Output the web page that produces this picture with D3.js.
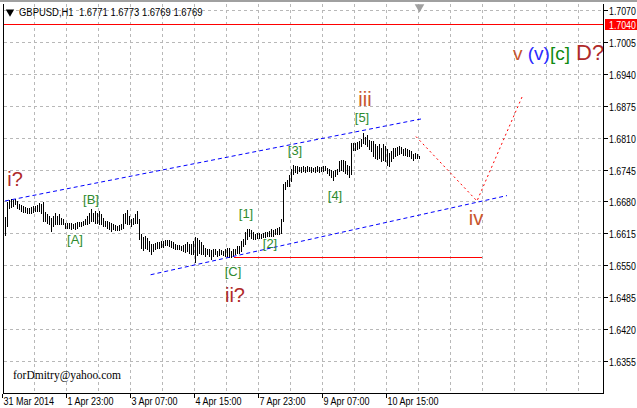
<!DOCTYPE html>
<html><head><meta charset="utf-8">
<script src="https://cdn.jsdelivr.net/npm/d3@7"></script>
<style>html,body{margin:0;padding:0;background:#fff;overflow:hidden}</style>
</head><body><svg id="c" width="637" height="408"></svg>
<script>
// ---- data (hourly bars, GBPUSD H1) ----
const highs = [
1.6649,1.6679,1.6683,1.6686,1.6684,1.6686,1.6681,1.6674,1.6672,1.6671,
1.6669,1.6667,1.6667,1.6669,1.6671,1.6671,1.6672,1.6676,1.6675,1.6679,
1.6659,1.6654,1.6650,1.6647,1.6650,1.6657,1.6650,1.6654,1.6647,1.6644,
1.6637,1.6637,1.6636,1.6636,1.6635,1.6637,1.6638,1.6638,1.6638,1.6640,
1.6644,1.6650,1.6657,1.6665,1.6657,1.6661,1.6657,1.6661,1.6654,1.6647,
1.6640,1.6640,1.6638,1.6637,1.6634,1.6632,1.6630,1.6632,1.6634,1.6654,
1.6657,1.6662,1.6650,1.6644,1.6647,1.6654,1.6661,1.6644,1.6613,1.6607,
1.6610,1.6605,1.6600,1.6593,1.6593,1.6595,1.6597,1.6598,1.6600,1.6600,
1.6602,1.6601,1.6601,1.6600,1.6597,1.6593,1.6591,1.6591,1.6590,1.6591,
1.6593,1.6597,1.6593,1.6593,1.6600,1.6607,1.6605,1.6601,1.6597,1.6591,
1.6586,1.6583,1.6584,1.6581,1.6583,1.6583,1.6580,1.6583,1.6581,1.6580,
1.6583,1.6586,1.6586,1.6580,1.6583,1.6584,1.6590,1.6590,1.6600,1.6603,
1.6617,1.6625,1.6624,1.6622,1.6617,1.6613,1.6615,1.6615,1.6613,1.6615,
1.6617,1.6617,1.6620,1.6624,1.6622,1.6624,1.6627,1.6629,1.6644,1.6715,
1.6720,1.6723,1.6733,1.6747,1.6755,1.6753,1.6752,1.6750,1.6750,1.6753,
1.6750,1.6752,1.6750,1.6750,1.6748,1.6750,1.6752,1.6750,1.6750,1.6752,
1.6753,1.6748,1.6746,1.6745,1.6741,1.6745,1.6746,1.6762,1.6765,1.6764,
1.6762,1.6755,1.6752,1.6799,1.6799,1.6798,1.6800,1.6802,1.6807,1.6819,
1.6812,1.6816,1.6806,1.6802,1.6802,1.6796,1.6792,1.6796,1.6789,1.6796,
1.6792,1.6786,1.6779,1.6782,1.6789,1.6789,1.6791,1.6792,1.6791,1.6787,
1.6789,1.6786,1.6784,1.6782,1.6777,1.6779,1.6777,1.6773];
const lows = [
1.6611,1.6631,1.6667,1.6669,1.6671,1.6674,1.6667,1.6664,1.6660,1.6659,
1.6659,1.6657,1.6656,1.6657,1.6659,1.6661,1.6661,1.6661,1.6657,1.6640,
1.6640,1.6637,1.6634,1.6620,1.6630,1.6634,1.6634,1.6634,1.6634,1.6634,
1.6627,1.6627,1.6627,1.6625,1.6626,1.6624,1.6627,1.6630,1.6630,1.6632,
1.6634,1.6634,1.6637,1.6640,1.6640,1.6637,1.6637,1.6634,1.6634,1.6630,
1.6630,1.6627,1.6624,1.6620,1.6624,1.6622,1.6622,1.6622,1.6625,1.6627,
1.6637,1.6634,1.6634,1.6630,1.6634,1.6637,1.6637,1.6603,1.6586,1.6582,
1.6586,1.6584,1.6580,1.6573,1.6580,1.6583,1.6586,1.6586,1.6588,1.6588,
1.6591,1.6591,1.6590,1.6588,1.6586,1.6584,1.6583,1.6583,1.6582,1.6580,
1.6578,1.6580,1.6576,1.6573,1.6573,1.6556,1.6571,1.6575,1.6573,1.6573,
1.6569,1.6573,1.6569,1.6564,1.6569,1.6573,1.6569,1.6571,1.6573,1.6571,
1.6569,1.6569,1.6568,1.6568,1.6569,1.6573,1.6575,1.6576,1.6580,1.6590,
1.6593,1.6603,1.6610,1.6605,1.6603,1.6603,1.6605,1.6606,1.6605,1.6607,
1.6607,1.6609,1.6609,1.6610,1.6610,1.6613,1.6613,1.6613,1.6615,1.6640,
1.6706,1.6711,1.6711,1.6721,1.6735,1.6739,1.6738,1.6741,1.6739,1.6741,
1.6739,1.6741,1.6741,1.6739,1.6741,1.6739,1.6741,1.6739,1.6741,1.6741,
1.6744,1.6738,1.6733,1.6730,1.6723,1.6731,1.6735,1.6741,1.6745,1.6741,
1.6738,1.6735,1.6730,1.6735,1.6785,1.6785,1.6787,1.6789,1.6792,1.6799,
1.6796,1.6792,1.6786,1.6782,1.6772,1.6769,1.6767,1.6769,1.6762,1.6765,
1.6762,1.6755,1.6753,1.6762,1.6769,1.6772,1.6775,1.6777,1.6779,1.6775,
1.6775,1.6773,1.6772,1.6769,1.6764,1.6769,1.6769,1.6769];

const priceTicks = [1.7070,1.7005,1.6940,1.6875,1.6810,1.6745,1.6680,1.6615,1.6550,1.6485,1.6420,1.6355];
const timeLabels = ["31 Mar 2014","1 Apr 23:00","3 Apr 07:00","4 Apr 15:00","7 Apr 23:00","9 Apr 07:00","10 Apr 15:00"];
const timeLabelBars = [-1,31,63,95,127,159,191];
const headerText = "GBPUSD,H1  1.6771 1.6773 1.6769 1.6769";
const levelPrice = 1.7040;

// drawn objects, in (bar index, price)
const upperChannel = [[0,1.6681],[208.3,1.6848]];
const lowerChannel = [[72.8,1.6531],[251,1.6692]];
const projection = [[205.5,1.6812],[236,1.6681],[259,1.6897]];
const supportLine = [[114,1.6568],[238,1.6568]];

// wave labels: [text, bar index, price(baseline), kind]
const waveLabels = [
  ["i?",5,1.6711,"major"],
  ["[A]",35,1.6593,"minor"],
  ["[B]",43,1.6674,"minor"],
  ["[C]",114,1.6528,"minor"],
  ["ii?",115,1.6476,"major"],
  ["[1]",120.5,1.6646,"minor"],
  ["[2]",132.5,1.6585,"minor"],
  ["[3]",145,1.6775,"minor"],
  ["[4]",165,1.6684,"minor"],
  ["[5]",178.5,1.6842,"minor"],
  ["iii",180,1.6874,"inter"],
  ["iv",235.5,1.6632,"inter"]
];
const targetLabel = {bar:254, price:1.6968, parts:[["v ","inter"],["(v)","blue"],["[c]","green"],[" D?","major"]]};

// ---- drawing ----
const svg = d3.select("#c");
const L = 3.5, R = 603.5, T = 4, B = 393.5;
const x = d3.scaleLinear().domain([0,299]).range([5,603]);
const y = d3.scaleLinear().domain([1.6355,1.7070]).range([361.3,9.7]);
const px = v => Math.round(x(v)) + 0.5;
const py = v => Math.round(y(v)) + 0.5;
const colors = {major:"#b02a2a", inter:"#c8552d", minor:"#2e8b2e", blue:"#2a2aff", green:"#108a10"};
const sizes = {major:20, inter:20, minor:13, blue:19, green:19};

// top frame strip
svg.append("rect").attr("x",0).attr("y",0).attr("width",637).attr("height",2).attr("fill","#a0a0a0");

// grid
const grid = svg.append("g").attr("stroke","#b8b8b8").attr("stroke-dasharray","3,3").attr("shape-rendering","crispEdges");
priceTicks.forEach(p => grid.append("line").attr("x1",L).attr("x2",R).attr("y1",py(p)).attr("y2",py(p)));
d3.range(15, 299, 16).forEach(i => grid.append("line").attr("x1",px(i)-1).attr("x2",px(i)-1).attr("y1",T).attr("y2",B));

// red level line
svg.append("line").attr("x1",L).attr("x2",R).attr("y1",py(levelPrice)).attr("y2",py(levelPrice))
  .attr("stroke","#ff0000").attr("shape-rendering","crispEdges");

// support line
svg.append("line").attr("x1",px(supportLine[0][0])).attr("x2",px(supportLine[1][0]))
  .attr("y1",py(supportLine[0][1])).attr("y2",py(supportLine[1][1]))
  .attr("stroke","#ff0000").attr("shape-rendering","crispEdges");

// bars
svg.append("g").attr("stroke","#000").attr("shape-rendering","crispEdges")
  .selectAll("line").data(highs).join("line")
  .attr("x1",(d,i)=>px(i)).attr("x2",(d,i)=>px(i))
  .attr("y1",d=>Math.round(y(d))).attr("y2",(d,i)=>Math.round(y(lows[i]))+1);

// channel lines
const lineGen = d3.line().x(d=>x(d[0])).y(d=>y(d[1]));
[upperChannel, lowerChannel].forEach(c => svg.append("path").attr("d",lineGen(c))
  .attr("fill","none").attr("stroke","#0000ff").attr("stroke-width",1).attr("stroke-dasharray","4,3"));
svg.append("path").attr("d",lineGen(projection)).attr("fill","none")
  .attr("stroke","#ff0000").attr("stroke-width",1).attr("stroke-dasharray","2,3");

// wave labels
waveLabels.forEach(([t,i,p,k]) => svg.append("text").text(t)
  .attr("x",x(i)).attr("y",y(p)).attr("text-anchor","middle")
  .attr("font-family","Liberation Sans, Arial, sans-serif").attr("font-size",sizes[k]).attr("fill",colors[k]));
const tl = svg.append("text").attr("x",x(targetLabel.bar)).attr("y",y(targetLabel.price))
  .attr("font-family","Liberation Sans, Arial, sans-serif").style("white-space","pre");
targetLabel.parts.forEach(([t,k],j) => tl.append("tspan").text(t).attr("fill",colors[k])
  .attr("font-size", j===3 ? 22 : 19));

// axes frame
const ax = svg.append("g").attr("stroke","#000").attr("shape-rendering","crispEdges");
ax.append("line").attr("x1",L).attr("x2",L).attr("y1",T).attr("y2",B);
ax.append("line").attr("x1",R).attr("x2",R).attr("y1",T).attr("y2",B);
ax.append("line").attr("x1",L).attr("x2",R).attr("y1",B).attr("y2",B);
priceTicks.forEach(p => ax.append("line").attr("x1",R).attr("x2",R+4).attr("y1",py(p)).attr("y2",py(p)));
timeLabelBars.forEach(i => ax.append("line").attr("x1",px(i)-1).attr("x2",px(i)-1).attr("y1",B).attr("y2",B+4));

const axFont = "Liberation Sans, Arial, sans-serif";
priceTicks.forEach(p => svg.append("text").text(p.toFixed(4))
  .attr("transform",`translate(609,${py(p)+4}) scale(0.8,1)`)
  .attr("font-family",axFont).attr("font-size",11).attr("fill","#000"));
timeLabels.forEach((t,j) => svg.append("text").text(t)
  .attr("transform",`translate(${px(timeLabelBars[j])},405) scale(0.82,1)`)
  .attr("font-family",axFont).attr("font-size",11).attr("fill","#000"));

// current level box
svg.append("rect").attr("x",605).attr("y",py(levelPrice)-5.5).attr("width",32).attr("height",11).attr("fill","#ff0000");
svg.append("text").text(levelPrice.toFixed(4))
  .attr("transform",`translate(609,${py(levelPrice)+4}) scale(0.8,1)`)
  .attr("font-family",axFont).attr("font-size",11).attr("fill","#fff");

// header
svg.append("path").attr("d",d3.symbol(d3.symbolTriangle,30)()).attr("transform","translate(10,12) rotate(180)").attr("fill","#000");
svg.append("text").text(headerText).style("white-space","pre")
  .attr("transform","translate(19,16) scale(0.86,1)")
  .attr("font-family",axFont).attr("font-size",11).attr("fill","#000");

// chart-shift marker
svg.append("path").attr("d",d3.symbol(d3.symbolTriangle,40)()).attr("transform",`translate(${px(207)},7) rotate(180)`).attr("fill","#a0a0a0");

// signature
svg.append("text").text("forDmitry@yahoo.com").attr("x",13).attr("y",379)
  .attr("font-family","Liberation Serif, Times New Roman, serif").attr("font-size",11.5).attr("fill","#000");
</script></body></html>
